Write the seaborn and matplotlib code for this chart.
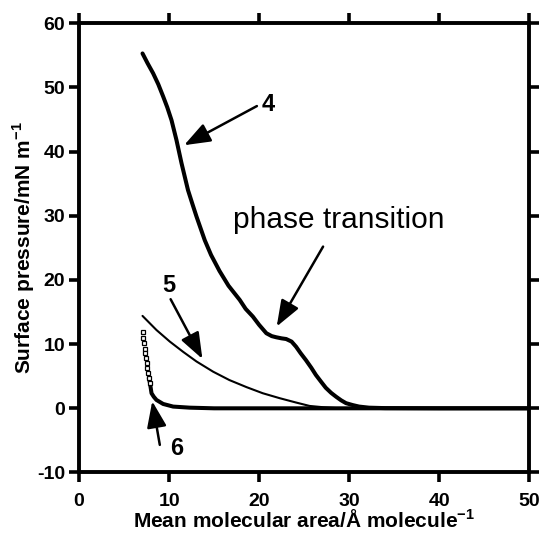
import seaborn as sns
import matplotlib.pyplot as plt
import pandas as pd

# Isotherm curves (area in A^2/molecule, pressure in mN/m)
area_4 = [7.05, 7.6, 8.23, 8.8, 9.34, 9.8, 10.27, 10.82, 11.38, 12.1, 12.6, 13.04,
          13.96, 14.66, 15.6, 16.6, 17.84, 18.5, 19.3, 20.0, 20.8, 21.4, 21.9,
          22.5, 23.0, 23.6, 24.1, 24.6, 25.2, 25.8, 26.3, 26.9, 27.4, 28.0, 28.55,
          29.1, 29.65, 30.4, 31.1, 32.2, 34.0, 40.0, 50.0]
press_4 = [55.3, 53.8, 52.2, 50.5, 48.6, 46.9, 44.9, 41.8, 38.2, 34.0, 31.8, 29.9,
           26.2, 23.9, 21.4, 19.1, 16.9, 15.5, 14.3, 13.0, 11.7, 11.25, 11.07,
           10.9, 10.8, 10.4, 9.6, 8.6, 7.5, 6.3, 5.2, 4.1, 3.2, 2.4, 1.8,
           1.25, 0.8, 0.5, 0.27, 0.1, 0.03, 0.0, 0.0]

area_5 = [7.05, 8.6, 10.08, 11.56, 13.04, 14.9, 16.7, 18.6, 20.4, 22.3, 24.1,
          25.6, 27.1, 29.0, 50.0]
press_5 = [14.4, 12.2, 10.4, 8.8, 7.3, 5.7, 4.4, 3.3, 2.35, 1.57, 0.9,
           0.37, 0.17, 0.0, 0.0]

area_6 = [7.75, 7.87, 8.05, 8.3, 8.6, 9.34, 10.45, 12.3, 15.0, 50.0]
press_6 = [4.7, 4.0, 2.35, 1.8, 1.3, 0.68, 0.27, 0.1, 0.0, 0.0]

# hollow square data points at the start of curve 6
area_6_pts = [7.05, 7.13, 7.2, 7.28, 7.35, 7.42, 7.5, 7.57, 7.64, 7.75, 7.87]
press_6_pts = [11.85, 10.9, 10.1, 9.2, 8.6, 7.8, 7.0, 6.25, 5.5, 4.7, 4.0]

x_ticks = [0, 10, 20, 30, 40, 50]
y_ticks = [-10, 0, 10, 20, 30, 40, 50, 60]

sns.set_style('ticks')
plt.rcParams['font.family'] = ['Liberation Sans', 'DejaVu Sans']
plt.rcParams['font.weight'] = 'bold'
plt.rcParams['mathtext.fontset'] = 'custom'
plt.rcParams['mathtext.rm'] = 'Liberation Sans:bold'
plt.rcParams['mathtext.bf'] = 'Liberation Sans:bold'
plt.rcParams['axes.unicode_minus'] = False
for key in ['text.color', 'axes.labelcolor', 'xtick.color', 'ytick.color',
            'axes.edgecolor']:
    plt.rcParams[key] = 'black'

fig = plt.figure(figsize=(5.42, 5.34), dpi=100)
ax = fig.add_axes([0.1458, 0.1152, 0.8308, 0.8412])

df4 = pd.DataFrame({'area': area_4, 'pressure': press_4})
df5 = pd.DataFrame({'area': area_5, 'pressure': press_5})
df6 = pd.DataFrame({'area': area_6, 'pressure': press_6})

sns.lineplot(data=df4, x='area', y='pressure', color='black', lw=2.9, ax=ax)
sns.lineplot(data=df5, x='area', y='pressure', color='black', lw=1.5, ax=ax)
sns.lineplot(data=df6, x='area', y='pressure', color='black', lw=2.9, ax=ax)
ax.plot(area_6_pts, press_6_pts, ls='none', marker='s', ms=3.2, mfc='white',
        mec='black', mew=0.9)

ax.set_xlim(0, 50)
ax.set_ylim(-10, 60)
ax.set_xticks(x_ticks)
ax.set_yticks(y_ticks)
ax.tick_params(direction='out', length=7, width=2.6, labelsize=14,
               top=True, right=True, pad=3)
ax.tick_params(axis='x', pad=8)
for sp in ax.spines.values():
    sp.set_linewidth(2.8)
    sp.set_visible(True)

ax.set_xlabel('Mean molecular area/Å molecule$^{-1}$', fontsize=15,
              fontweight='bold', labelpad=-1)
ax.set_ylabel('Surface pressure/mN m$^{-1}$', fontsize=15,
              fontweight='bold', labelpad=0)

arrow = dict(arrowstyle='-|>,head_length=0.8,head_width=0.3', color='black',
             lw=1.8, mutation_scale=20, shrinkA=0, shrinkB=0)
ax.annotate('', xy=(11.67, 41.0), xytext=(19.75, 47.1), arrowprops=arrow)
ax.text(20.97, 47.3, '4', fontsize=17, fontweight='bold', ha='center',
        va='center')

ax.annotate('', xy=(21.95, 12.75), xytext=(27.1, 25.2), arrowprops=arrow)
ax.text(28.85, 29.4, 'phase transition', fontsize=21.5, fontweight='normal',
        ha='center', va='center')

ax.annotate('', xy=(13.7, 7.7), xytext=(10.17, 17.0), arrowprops=arrow)
ax.text(9.94, 19.1, '5', fontsize=17, fontweight='bold', ha='center',
        va='center')

ax.annotate('', xy=(8.13, 1.1), xytext=(8.97, -5.7), arrowprops=arrow)
ax.text(10.8, -6.3, '6', fontsize=17, fontweight='bold', ha='center',
        va='center')

fig.savefig('out.png', dpi=100)
